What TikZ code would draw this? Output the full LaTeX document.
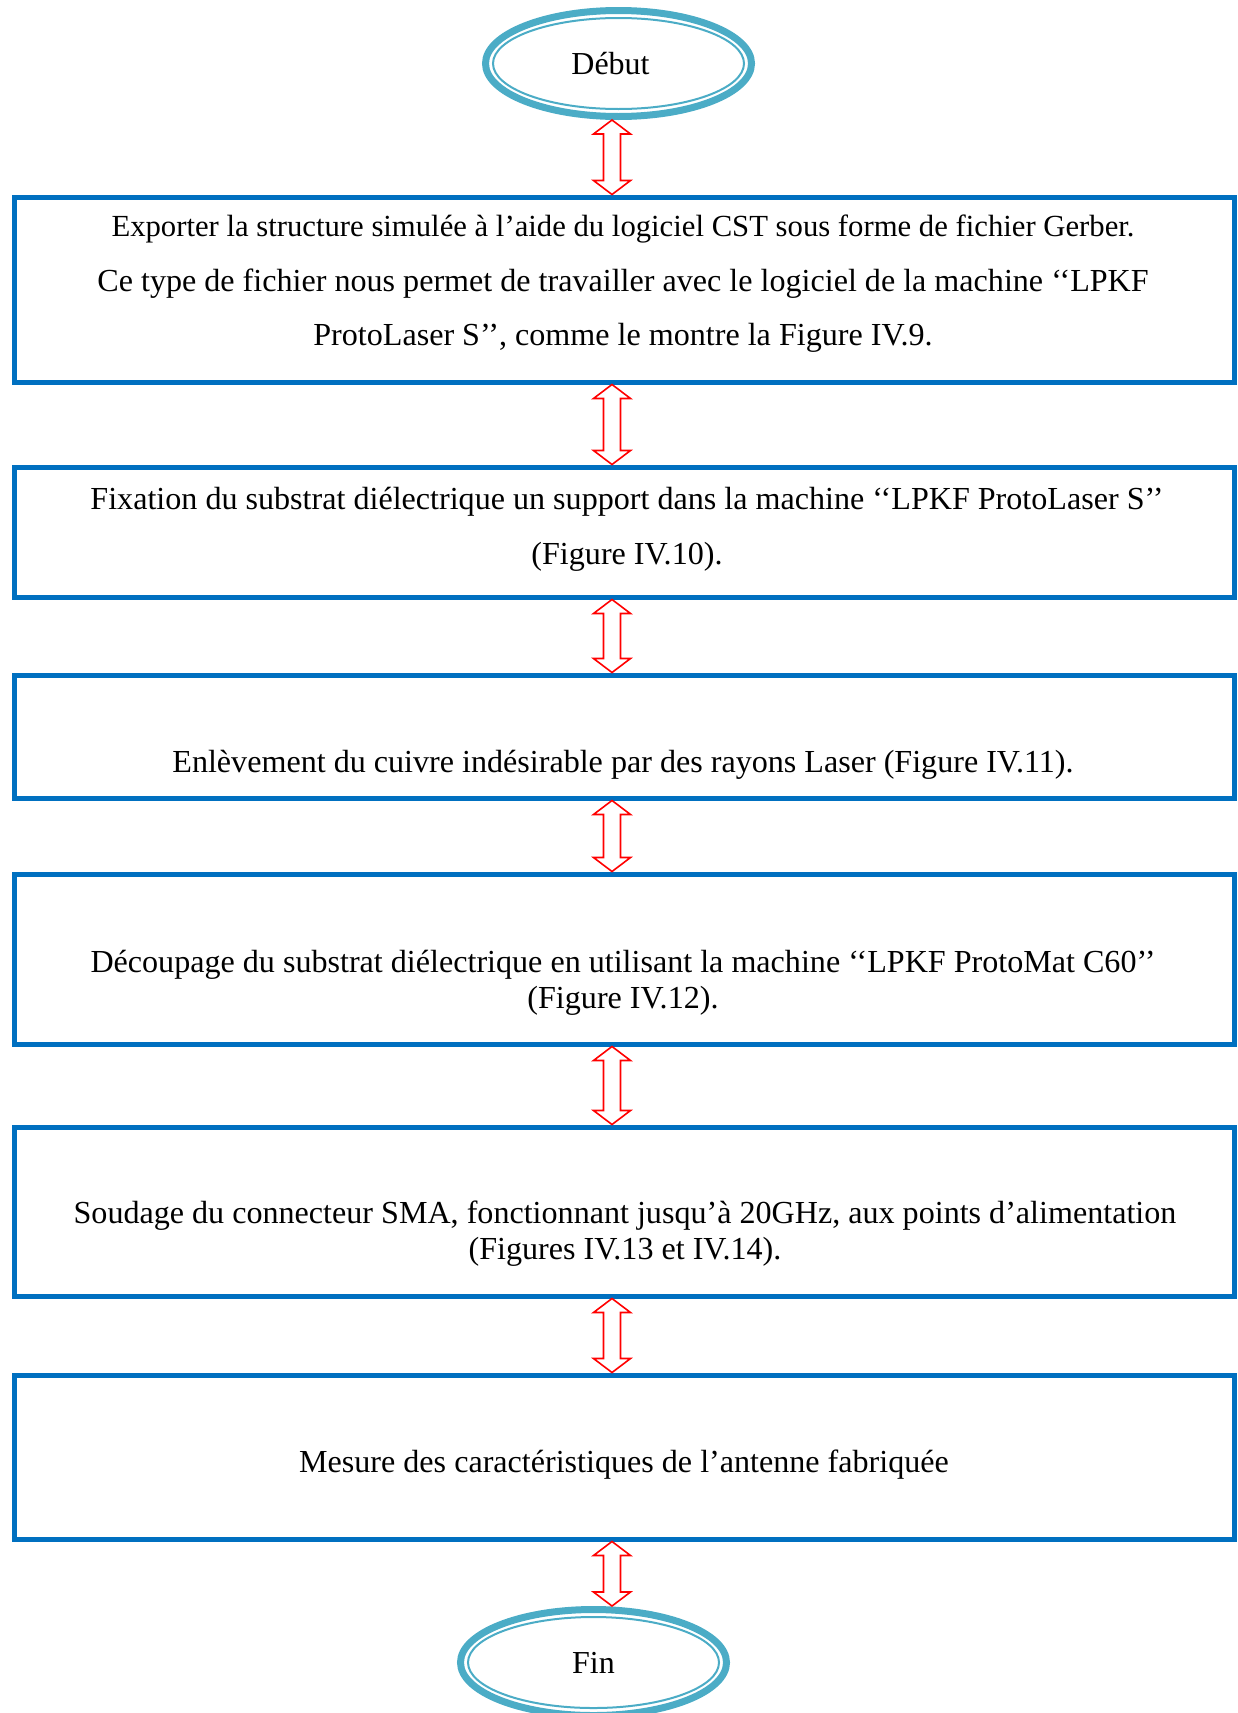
\documentclass[tikz,border=0pt]{standalone}
\usepackage{fontspec}
\setmainfont{Liberation Serif}
\usetikzlibrary{shapes.geometric,calc}
\definecolor{cadre}{RGB}{0,112,192}
\definecolor{anneau}{RGB}{75,172,198}

\begin{document}
\begin{tikzpicture}[x=0.5pt,y=-0.5pt,
  etape/.style={draw=cadre, line width=2.5pt, minimum width=610pt, inner sep=0pt},
  borne/.style={ellipse, draw=anneau, line width=3.5pt, minimum width=133pt,
    minimum height=53pt, inner sep=0pt, font=\fontsize{16}{18}\selectfont},
  texte/.style={align=center, inner sep=0pt, font=\fontsize{16.05}{27.3}\selectfont},
  serre/.style={align=center, inner sep=0pt, font=\fontsize{16.05}{18}\selectfont},
  fleche/.style={draw=red, fill=white, line width=0.8pt, line join=miter}]
  \useasboundingbox (0,0) rectangle (1237,1713);
  \coordinate (axe) at (612,0);

  % debut et fin
  \node[borne] (debut) at (618.5,63.5) {\raisebox{-1pt}{Début}\hspace*{8pt}};
  \draw[anneau, line width=1pt] (debut.center) ellipse [x radius=62.75pt, y radius=22.75pt];
  \node[borne] (fin) at (593.5,1662.5) {\raisebox{-1pt}{Fin}};
  \draw[anneau, line width=1pt] (fin.center) ellipse [x radius=62.75pt, y radius=22.75pt];

  % etapes
  \node[etape, minimum height=92.5pt] (e1) at (624,289.5) {};
  \node[etape, minimum height=65pt]   (e2) at (624.5,532) {};
  \node[etape, minimum height=61.5pt] (e3) at (624,736.5) {};
  \node[etape, minimum height=85pt]   (e4) at (624,959) {};
  \node[etape, minimum height=84.5pt] (e5) at (624,1211.5) {};
  \node[etape, minimum height=82pt]   (e6) at (624,1457) {};

  \node[texte] (t1) at (623,284) {{\fontsize{15.35}{27.3}\selectfont Exporter la structure simulée à l’aide du logiciel CST sous forme de fichier Gerber.}\\
    Ce type de fichier nous permet de travailler avec le logiciel de la machine ‘‘LPKF\\
    ProtoLaser S’’, comme le montre la Figure IV.9.};
  \node[texte] (t2) at (627,529.5) {Fixation du substrat diélectrique un support dans la machine ‘‘LPKF ProtoLaser S’’\\
    (Figure IV.10).};
  \node[serre] (t3) at (623,765) {Enlèvement du cuivre indésirable par des rayons Laser (Figure IV.11).};
  \node[serre] (t4) at (623,983) {Découpage du substrat diélectrique en utilisant la machine ‘‘LPKF ProtoMat C60’’\\
    (Figure IV.12).};
  \node[serre] (t5) at (625,1234) {Soudage du connecteur SMA, fonctionnant jusqu’à 20GHz, aux points d’alimentation\\
    (Figures IV.13 et IV.14).};
  \node[serre] (t6) at (624,1465) {Mesure des caractéristiques de l’antenne fabriquée};

  % fleches doubles
  \foreach \a/\b in {debut/e1,e1/e2,e2/e3,e3/e4,e4/e5,e5/e6,e6/fin}
    \draw[fleche] let \p1=(\a.south -| axe), \p2=(\b.north -| axe) in
      (\x1,\y1) -- (\x1+9.25pt,\y1-7pt) -- (\x1+4.25pt,\y1-7pt) -- (\x1+4.25pt,\y2+7pt)
      -- (\x1+9.25pt,\y2+7pt) -- (\x1,\y2) -- (\x1-9.25pt,\y2+7pt) -- (\x1-4.25pt,\y2+7pt)
      -- (\x1-4.25pt,\y1-7pt) -- (\x1-9.25pt,\y1-7pt) -- cycle;
\end{tikzpicture}
\end{document}
